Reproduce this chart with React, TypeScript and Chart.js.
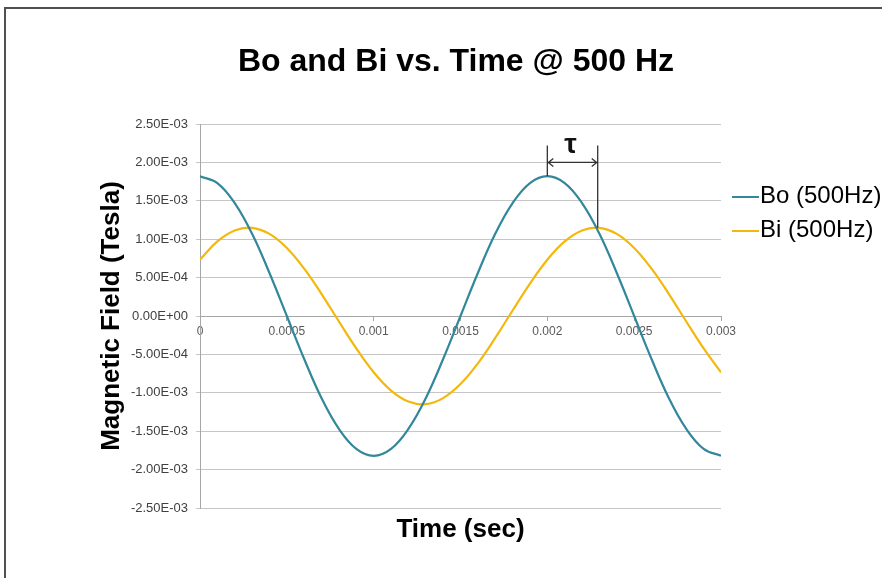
import React, { useEffect, useRef } from 'react';
import { Chart, registerables } from 'chart.js';

Chart.register(...registerables);

// ---------- data ----------
const chartTitle = 'Bo and Bi vs. Time @ 500 Hz';
const xAxisTitle = 'Time (sec)';
const yAxisTitle = 'Magnetic Field (Tesla)';

const timeSec = [
  0, 0.0001, 0.0002, 0.0003, 0.0004, 0.0005, 0.0006, 0.0007, 0.0008, 0.0009,
  0.001, 0.0011, 0.0012, 0.0013, 0.0014, 0.0015, 0.0016, 0.0017, 0.0018, 0.0019,
  0.002, 0.0021, 0.0022, 0.0023, 0.0024, 0.0025, 0.0026, 0.0027, 0.0028, 0.0029,
  0.003,
];

const boLabel = 'Bo (500Hz)';
const boValues = [
  0.00182, 0.00173, 0.00147, 0.00107, 0.00056, 0, -0.00056, -0.00107, -0.00147, -0.00173,
  -0.00182, -0.00173, -0.00147, -0.00107, -0.00056, 0, 0.00056, 0.00107, 0.00147, 0.00173,
  0.00182, 0.00173, 0.00147, 0.00107, 0.00056, 0, -0.00056, -0.00107, -0.00147, -0.00173,
  -0.00182,
];

const biLabel = 'Bi (500Hz)';
const biValues = [
  0.000733, 0.000971, 0.001114, 0.001148, 0.001069, 0.000886, 0.000616, 0.000286, -0.000072, -0.000423,
  -0.000733, -0.000971, -0.001114, -0.001148, -0.001069, -0.000886, -0.000616, -0.000286, 0.000072, 0.000423,
  0.000733, 0.000971, 0.001114, 0.001148, 0.001069, 0.000886, 0.000616, 0.000286, -0.000072, -0.000423,
  -0.000733,
];

const xTickValues = [0, 0.0005, 0.001, 0.0015, 0.002, 0.0025, 0.003];
const xTickLabels = ['0', '0.0005', '0.001', '0.0015', '0.002', '0.0025', '0.003'];

const yTickValues = [-0.0025, -0.002, -0.0015, -0.001, -0.0005, 0, 0.0005, 0.001, 0.0015, 0.002, 0.0025];
const yTickLabels = [
  '-2.50E-03', '-2.00E-03', '-1.50E-03', '-1.00E-03', '-5.00E-04', '0.00E+00',
  '5.00E-04', '1.00E-03', '1.50E-03', '2.00E-03', '2.50E-03',
];

// tau annotation: [start time, end time], arrow level, top of marker lines
const tauTimes = [0.002, 0.00229];
const tauArrowLevel = 0.002;
const tauTopLevel = 0.00222;
const tauPeaks = [0.00182, 0.001148];

const FONT = '"Liberation Sans", Arial, Helvetica, sans-serif';
const BO_COLOR = '#33879B';
const BI_COLOR = '#F3B80C';

const overlayPlugin = {
  id: 'overlay',
  afterDraw(chart: any) {
    const { ctx, chartArea, scales } = chart;
    const xs = scales.x;
    const ys = scales.y;
    ctx.save();

    // picture frame (top & left edges)
    ctx.fillStyle = '#505050';
    ctx.fillRect(4, 7, chart.width - 4, 2);
    ctx.fillRect(4, 7, 2, chart.height - 7);

    // title
    ctx.fillStyle = '#000';
    ctx.textAlign = 'center';
    ctx.textBaseline = 'alphabetic';
    ctx.font = `bold 32px ${FONT}`;
    ctx.fillText(chartTitle, 456, 71);

    // x axis title
    ctx.font = `bold 26px ${FONT}`;
    ctx.fillText(xAxisTitle, (chartArea.left + chartArea.right) / 2, 537);

    // legend
    chart.data.datasets.forEach((ds: any, i: number) => {
      const rowY = 197 + i * 34;
      ctx.strokeStyle = ds.borderColor;
      ctx.lineWidth = 2;
      ctx.beginPath();
      ctx.moveTo(732, rowY);
      ctx.lineTo(759, rowY);
      ctx.stroke();
      ctx.fillStyle = '#000';
      ctx.textAlign = 'left';
      ctx.textBaseline = 'middle';
      ctx.font = `24px ${FONT}`;
      ctx.fillText(ds.label, 760, rowY - 1);
    });

    // tau annotation
    const x1 = xs.getPixelForValue(tauTimes[0]);
    const x2 = xs.getPixelForValue(tauTimes[1]);
    const yTop = ys.getPixelForValue(tauTopLevel);
    const yArr = ys.getPixelForValue(tauArrowLevel);
    const y1 = ys.getPixelForValue(tauPeaks[0]);
    const y2 = ys.getPixelForValue(tauPeaks[1]);
    ctx.strokeStyle = '#333';
    ctx.lineWidth = 1.3;
    ctx.beginPath();
    ctx.moveTo(x1, yTop);
    ctx.lineTo(x1, y1);
    ctx.moveTo(x2, yTop);
    ctx.lineTo(x2, y2);
    ctx.moveTo(x1, yArr);
    ctx.lineTo(x2, yArr);
    ctx.moveTo(x1 + 6, yArr - 4);
    ctx.lineTo(x1 + 1, yArr);
    ctx.lineTo(x1 + 6, yArr + 4);
    ctx.moveTo(x2 - 6, yArr - 4);
    ctx.lineTo(x2 - 1, yArr);
    ctx.lineTo(x2 - 6, yArr + 4);
    ctx.stroke();
    ctx.fillStyle = '#111';
    ctx.textAlign = 'center';
    ctx.textBaseline = 'alphabetic';
    ctx.font = `bold 28px ${FONT}`;
    ctx.fillText('τ', (x1 + x2) / 2 - 2, 153);

    ctx.restore();
  },
};

export default function App() {
  const canvasRef = useRef<HTMLCanvasElement | null>(null);

  useEffect(() => {
    if (!canvasRef.current) return;
    const chart = new Chart(canvasRef.current, {
      type: 'line',
      data: {
        datasets: [
          {
            label: boLabel,
            data: timeSec.map((t, i) => ({ x: t, y: boValues[i] })),
            borderColor: BO_COLOR,
            backgroundColor: BO_COLOR,
            borderWidth: 2.2,
            pointRadius: 0,
            tension: 0.4,
            fill: false,
          },
          {
            label: biLabel,
            data: timeSec.map((t, i) => ({ x: t, y: biValues[i] })),
            borderColor: BI_COLOR,
            backgroundColor: BI_COLOR,
            borderWidth: 2.2,
            pointRadius: 0,
            tension: 0.4,
            fill: false,
          },
        ],
      },
      options: {
        responsive: true,
        maintainAspectRatio: false,
        animation: false,
        layout: { padding: { left: 0, top: 124, right: 161, bottom: 70 } },
        plugins: {
          legend: { display: false },
          title: { display: false },
          tooltip: { enabled: false },
        },
        scales: {
          x: {
            type: 'linear',
            position: { y: 0 } as any,
            min: 0,
            max: 0.003,
            afterBuildTicks: (scale: any) => {
              scale.ticks = xTickValues.map((v) => ({ value: v }));
            },
            ticks: {
              callback: (_v: any, i: number) => xTickLabels[i],
              font: { family: FONT, size: 12 },
              color: '#595959',
              padding: 4,
              maxRotation: 0,
              autoSkip: false,
            },
            grid: { drawOnChartArea: false, drawTicks: true, tickLength: 4, color: '#a6a6a6' },
            border: { display: true, color: '#a6a6a6' },
          },
          y: {
            type: 'linear',
            min: -0.0025,
            max: 0.0025,
            afterBuildTicks: (scale: any) => {
              scale.ticks = yTickValues.map((v) => ({ value: v }));
            },
            afterFit: (scale: any) => {
              scale.width = 200;
            },
            ticks: {
              callback: (_v: any, i: number) => yTickLabels[i],
              font: { family: FONT, size: 13 },
              color: '#404040',
              padding: 8,
            },
            grid: { color: '#c6c6c6', tickLength: 4 },
            border: { display: true, color: '#a6a6a6' },
            title: {
              display: true,
              text: yAxisTitle,
              color: '#000',
              font: { family: FONT, size: 26, weight: 'bold' },
              padding: { top: 96, bottom: 0 },
            },
          },
        },
      },
      plugins: [overlayPlugin],
    });
    return () => chart.destroy();
  }, []);

  return (
    <div style={{ position: 'absolute', left: 0, top: 0, width: 882, height: 578, background: '#fff' }}>
      <canvas ref={canvasRef} />
    </div>
  );
}
